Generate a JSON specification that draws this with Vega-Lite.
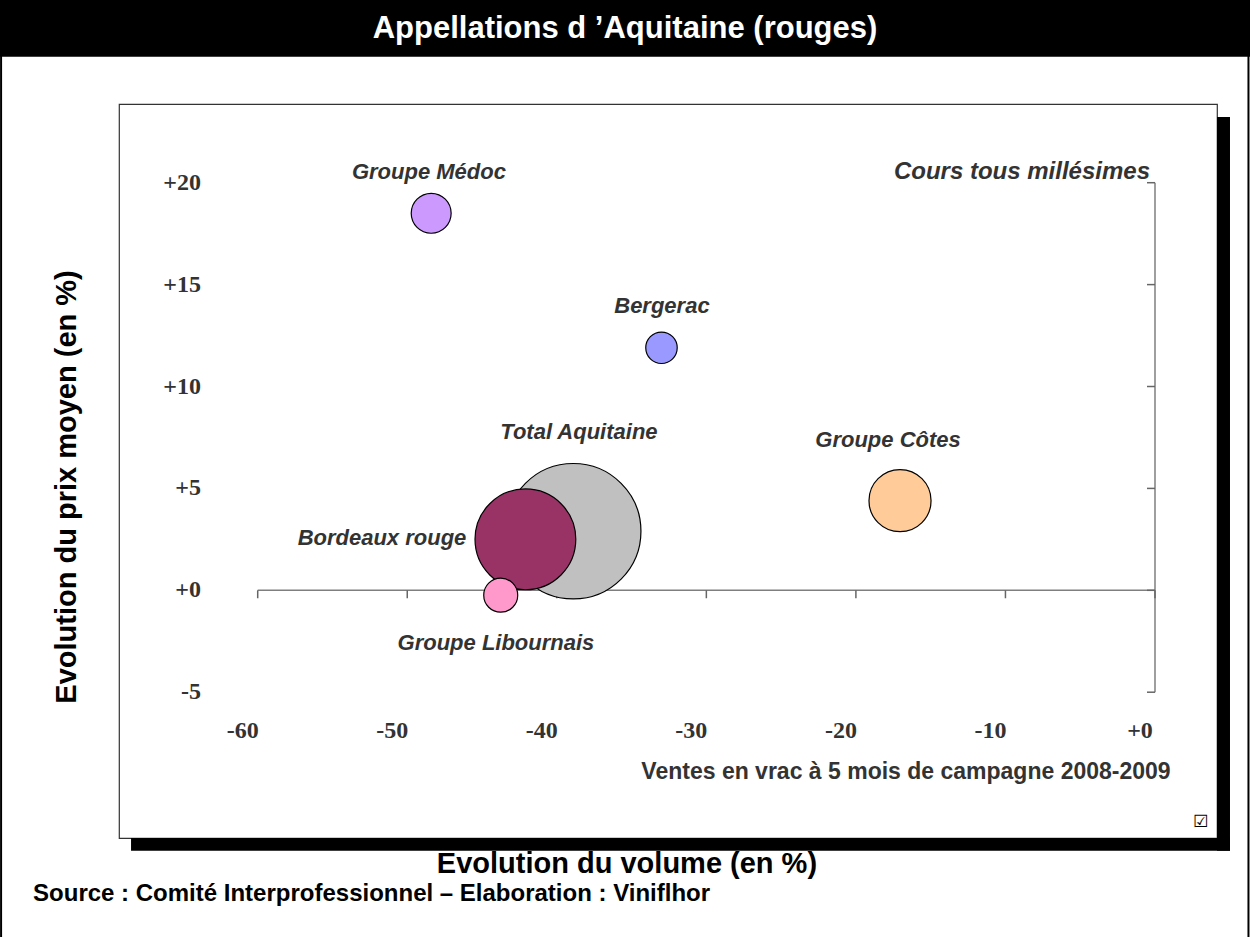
{
  "$schema": "https://vega.github.io/schema/vega-lite/v6.json",
  "width": 1098,
  "height": 734,
  "autosize": {"type": "none"},
  "padding": {"left": 119, "top": 104, "right": 33, "bottom": 99},
  "background": "white",
  "config": {
    "view": {"fill": "white", "stroke": "#333333", "strokeWidth": 1.2},
    "font": "Liberation Sans"
  },
  "datasets": {
    "bubbles": [
      {"appellation": "Groupe Médoc", "volume_pct": -48.4, "prix_pct": 18.5, "volume": 87, "lx": -48.55, "ly": 20.52},
      {"appellation": "Bergerac", "volume_pct": -33.0, "prix_pct": 11.9, "volume": 54, "lx": -32.97, "ly": 13.95},
      {"appellation": "Total Aquitaine", "volume_pct": -38.9, "prix_pct": 2.9, "volume": 1000, "lx": -38.52, "ly": 7.77},
      {"appellation": "Groupe Côtes", "volume_pct": -17.05, "prix_pct": 4.4, "volume": 210, "lx": -17.85, "ly": 7.38},
      {"appellation": "Bordeaux rouge", "volume_pct": -42.1, "prix_pct": 2.5, "volume": 554, "lx": -51.69, "ly": 2.57},
      {"appellation": "Groupe Libournais", "volume_pct": -43.75, "prix_pct": -0.24, "volume": 63, "lx": -44.07, "ly": -2.59}
    ],
    "xticks": [
      {"v": -60, "lab": "-60"}, {"v": -50, "lab": "-50"}, {"v": -40, "lab": "-40"}, {"v": -30, "lab": "-30"},
      {"v": -20, "lab": "-20"}, {"v": -10, "lab": "-10"}, {"v": 0, "lab": "+0"}
    ],
    "yticks": [
      {"v": -5, "lab": "-5"}, {"v": 0, "lab": "+0"}, {"v": 5, "lab": "+5"}, {"v": 10, "lab": "+10"},
      {"v": 15, "lab": "+15"}, {"v": 20, "lab": "+20"}
    ],
    "one": [{"k": 1}]
  },
  "layer": [
    {
      "data": {"name": "one"},
      "mark": {"type": "rule", "color": "#000000", "strokeWidth": 2, "clip": false},
      "encoding": {
        "x": {"datum": -77.16, "type": "quantitative", "scale": {"domain": [-69.275, 4.146], "nice": false, "zero": false}, "axis": null},
        "y": {"datum": 29.21, "type": "quantitative", "scale": {"domain": [-12.154, 23.862], "nice": false, "zero": false}, "axis": null},
        "y2": {"datum": -17.4}
      }
    },
    {
      "data": {"name": "one"},
      "mark": {"type": "rule", "color": "#000000", "strokeWidth": 2, "clip": false},
      "encoding": {
        "x": {"datum": 6.25, "type": "quantitative", "axis": null},
        "y": {"datum": 29.21, "type": "quantitative", "axis": null},
        "y2": {"datum": -17.4}
      }
    },
    {
      "data": {"name": "one"},
      "mark": {"type": "rect", "fill": "#000000", "clip": false},
      "encoding": {
        "x": {"datum": -77.4, "type": "quantitative", "axis": null},
        "x2": {"datum": 6.4},
        "y": {"datum": 29.3, "type": "quantitative", "axis": null},
        "y2": {"datum": 26.18}
      }
    },
    {
      "data": {"name": "one"},
      "mark": {"type": "text", "text": "Appellations d ’Aquitaine (rouges)", "color": "white", "fontSize": 31, "fontWeight": "bold", "align": "center", "baseline": "middle", "clip": false},
      "encoding": {
        "x": {"datum": -35.44, "type": "quantitative", "axis": null},
        "y": {"datum": 27.55, "type": "quantitative", "axis": null}
      }
    },
    {
      "data": {"name": "one"},
      "mark": {"type": "rect", "fill": "#000000", "clip": false},
      "encoding": {
        "x": {"datum": 4.146, "type": "quantitative", "axis": null},
        "x2": {"datum": 5.015},
        "y": {"datum": 23.224, "type": "quantitative", "axis": null},
        "y2": {"datum": -12.783}
      }
    },
    {
      "data": {"name": "one"},
      "mark": {"type": "rect", "fill": "#000000", "clip": false},
      "encoding": {
        "x": {"datum": -68.47, "type": "quantitative", "axis": null},
        "x2": {"datum": 5.015},
        "y": {"datum": -12.154, "type": "quantitative", "axis": null},
        "y2": {"datum": -12.783}
      }
    },
    {
      "data": {"name": "one"},
      "mark": {"type": "rule", "color": "#7f7f7f", "strokeWidth": 1.5},
      "encoding": {
        "x": {"datum": -60, "type": "quantitative", "axis": null},
        "x2": {"datum": 0},
        "y": {"datum": 0, "type": "quantitative", "axis": null}
      }
    },
    {
      "data": {"name": "one"},
      "mark": {"type": "rule", "color": "#7f7f7f", "strokeWidth": 1.5},
      "encoding": {
        "x": {"datum": 0, "type": "quantitative", "axis": null},
        "y": {"datum": -5, "type": "quantitative", "axis": null},
        "y2": {"datum": 20}
      }
    },
    {
      "data": {"name": "xticks"},
      "mark": {"type": "rule", "color": "#666666", "strokeWidth": 1.5},
      "encoding": {
        "x": {"field": "v", "type": "quantitative", "axis": null},
        "y": {"datum": 0, "type": "quantitative", "axis": null},
        "y2": {"datum": -0.39}
      }
    },
    {
      "data": {"name": "yticks"},
      "mark": {"type": "rule", "color": "#666666", "strokeWidth": 1.5},
      "encoding": {
        "x": {"datum": 0, "type": "quantitative", "axis": null},
        "x2": {"datum": -0.535},
        "y": {"field": "v", "type": "quantitative", "axis": null}
      }
    },
    {
      "data": {"name": "xticks"},
      "mark": {"type": "text", "font": "Liberation Serif", "fontWeight": "bold", "fontSize": 24, "color": "#333333", "align": "center", "baseline": "middle", "dx": -15},
      "encoding": {
        "x": {"field": "v", "type": "quantitative", "axis": null},
        "y": {"datum": -6.9, "type": "quantitative", "axis": null},
        "text": {"field": "lab"}
      }
    },
    {
      "data": {"name": "yticks"},
      "mark": {"type": "text", "font": "Liberation Serif", "fontWeight": "bold", "fontSize": 24, "color": "#333333", "align": "right", "baseline": "middle"},
      "encoding": {
        "x": {"datum": -63.79, "type": "quantitative", "axis": null},
        "y": {"field": "v", "type": "quantitative", "axis": null},
        "text": {"field": "lab"}
      }
    },
    {
      "data": {"name": "bubbles"},
      "mark": {"type": "circle", "opacity": 1, "stroke": "#000000", "strokeWidth": 1.2},
      "encoding": {
        "x": {"field": "volume_pct", "type": "quantitative", "axis": null},
        "y": {"field": "prix_pct", "type": "quantitative", "axis": null},
        "size": {"field": "volume", "type": "quantitative", "scale": {"type": "linear", "domain": [0, 1000], "range": [0, 18330]}, "legend": null},
        "color": {"field": "appellation", "type": "nominal", "legend": null,
          "scale": {"domain": ["Groupe Médoc", "Bergerac", "Total Aquitaine", "Groupe Côtes", "Bordeaux rouge", "Groupe Libournais"],
            "range": ["#CC99FF", "#9999FF", "#C0C0C0", "#FFCC99", "#993366", "#FF99CC"]}}
      }
    },
    {
      "data": {"name": "bubbles"},
      "mark": {"type": "text", "fontSize": 22, "fontWeight": "bold", "fontStyle": "italic", "color": "#333333", "align": "center", "baseline": "middle"},
      "encoding": {
        "x": {"field": "lx", "type": "quantitative", "axis": null},
        "y": {"field": "ly", "type": "quantitative", "axis": null},
        "text": {"field": "appellation"}
      }
    },
    {
      "data": {"name": "one"},
      "mark": {"type": "text", "text": "Cours tous millésimes", "fontSize": 24, "fontWeight": "bold", "fontStyle": "italic", "color": "#333333", "align": "right", "baseline": "middle"},
      "encoding": {
        "x": {"datum": -0.334, "type": "quantitative", "axis": null},
        "y": {"datum": 20.52, "type": "quantitative", "axis": null}
      }
    },
    {
      "data": {"name": "one"},
      "mark": {"type": "text", "text": "Ventes en vrac à 5 mois de campagne 2008-2009", "fontSize": 23, "fontWeight": "bold", "color": "#333333", "align": "center", "baseline": "middle"},
      "encoding": {
        "x": {"datum": -16.65, "type": "quantitative", "axis": null},
        "y": {"datum": -8.92, "type": "quantitative", "axis": null}
      }
    },
    {
      "data": {"name": "one"},
      "mark": {"type": "text", "text": "☑", "fontSize": 17, "font": "DejaVu Sans", "color": "#000000", "align": "center", "baseline": "middle"},
      "encoding": {
        "x": {"datum": 3.076, "type": "quantitative", "axis": null},
        "y": {"datum": -11.36, "type": "quantitative", "axis": null}
      }
    },
    {
      "data": {"name": "one"},
      "mark": {"type": "text", "text": "Evolution du volume (en %)", "fontSize": 29, "fontWeight": "bold", "color": "#000000", "align": "center", "baseline": "middle", "clip": false},
      "encoding": {
        "x": {"datum": -35.31, "type": "quantitative", "axis": null},
        "y": {"datum": -13.43, "type": "quantitative", "axis": null}
      }
    },
    {
      "data": {"name": "one"},
      "mark": {"type": "text", "text": "Evolution du prix moyen (en %)", "fontSize": 29, "fontWeight": "bold", "color": "#000000", "align": "center", "baseline": "middle", "angle": 270, "clip": false},
      "encoding": {
        "x": {"datum": -72.75, "type": "quantitative", "axis": null},
        "y": {"datum": 5.07, "type": "quantitative", "axis": null}
      }
    },
    {
      "data": {"name": "one"},
      "mark": {"type": "text", "text": "Source : Comité Interprofessionnel – Elaboration : Viniflhor", "fontSize": 24, "fontWeight": "bold", "color": "#000000", "align": "left", "baseline": "middle", "clip": false},
      "encoding": {
        "x": {"datum": -75.02, "type": "quantitative", "axis": null},
        "y": {"datum": -14.9, "type": "quantitative", "axis": null}
      }
    }
  ]
}
